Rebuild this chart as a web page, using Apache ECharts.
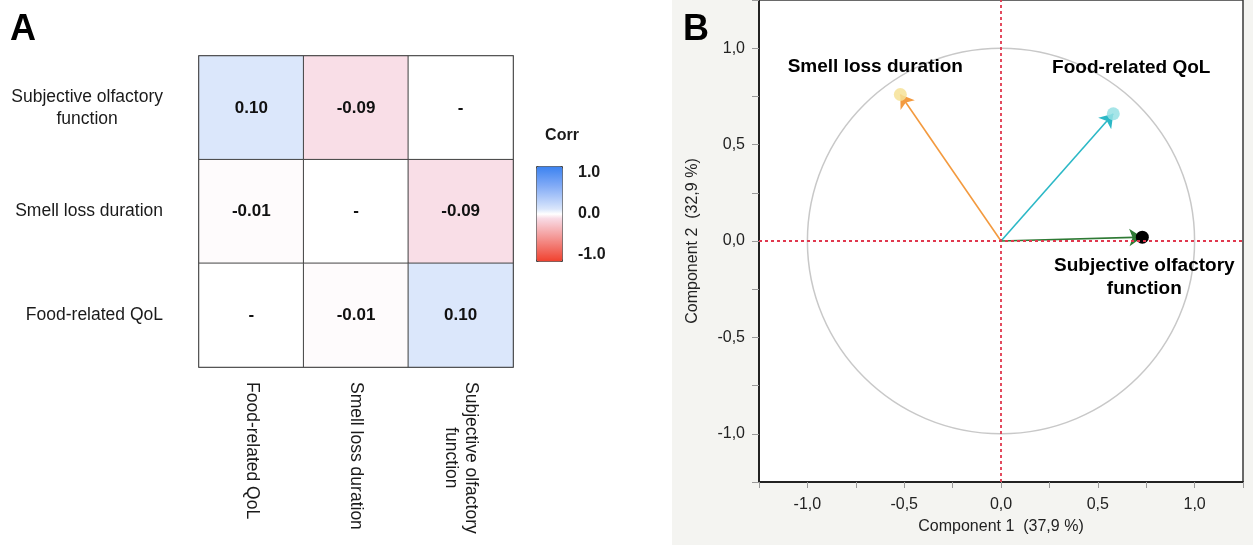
<!DOCTYPE html>
<html>
<head>
<meta charset="utf-8">
<script src="https://cdn.jsdelivr.net/npm/echarts@6/dist/echarts.min.js"></script>
<style>
html,body{margin:0;padding:0;background:#fff;}
#chart{width:1253px;height:545px;}
</style>
</head>
<body>
<div id="chart"></div>
<script>
// ---------- Panel A data (correlation heatmap) ----------
const rowLabels = ['Subjective olfactory function', 'Smell loss duration', 'Food-related QoL']; // top to bottom
const colLabels = ['Food-related QoL', 'Smell loss duration', 'Subjective olfactory function']; // left to right
const corrRows = [
  [0.10, -0.09, null],
  [-0.01, null, -0.09],
  [null, -0.01, 0.10]
];
const corrTicks = [-1, 0, 1];
const corrTitle = 'Corr';

// ---------- Panel B data (PCA loading vectors) ----------
const vecNames = ['Smell loss duration', 'Food-related QoL', 'Subjective olfactory function'];
const vecX = [-0.52, 0.58, 0.73];
const vecY = [0.76, 0.66, 0.02];
const circleRadius = [1];
const xName = 'Component 1  (37,9 %)';
const yName = 'Component 2  (32,9 %)';

// ---------- styles ----------
const FONT = '"Liberation Sans", Arial, Helvetica, sans-serif';
const vecColors = ['#f39a3f', '#2bb8c6', '#2f7a35'];
const glowColors = ['rgba(246,226,150,0.85)', 'rgba(150,225,228,0.85)', '#000000'];
const glowSizes = [13, 13, 13];
const labelOffsets = [[-25, -28], [18, -46], [2, 40]];

function wrap(s) {
  if (s.length <= 20) return s;
  const i = s.lastIndexOf(' ');
  return s.slice(0, i) + '\n' + s.slice(i + 1);
}
function richWrap(s) {
  return wrap(s).split('\n').map(t => '{c|' + t + '}').join('\n');
}

const heatData = [];
corrRows.forEach((row, r) => {
  row.forEach((v, c) => {
    heatData.push([c, r, v == null ? 0 : v, v == null ? '-' : v.toFixed(2)]);
  });
});

const corrColors = [
  '#f0412e', '#f15242', '#f16357', '#f2746b', '#f3857f', '#f49694', '#f5a7a8', '#f6b8bc', '#f7c9d0', '#f8dae4',
  '#ffffff',
  '#dbe7fb', '#c8dafa', '#b6cef9', '#a4c2f8', '#92b6f7', '#80aaf6', '#6fa0f5', '#5e96f3', '#4c8cf2', '#3b82f0'
];

function commaFmt(v) {
  if (Math.abs(v * 2 - Math.round(v * 2)) > 1e-6) return '';
  return (Math.abs(v) < 1e-9 ? 0 : v).toFixed(1).replace('.', ',');
}

const chart = echarts.init(document.getElementById('chart'), null, {renderer: 'canvas'});
const option = {
  animation: false,
  textStyle: {fontFamily: FONT},
  graphic: [
    {type: 'rect', shape: {x: 672, y: 0, width: 581, height: 545}, style: {fill: '#f4f4f1'}, z: -10, silent: true},
    {type: 'text', left: 10, top: 12, style: {text: 'A', font: 'bold 36px ' + FONT, fill: '#000'}},
    {type: 'text', left: 683, top: 12, style: {text: 'B', font: 'bold 36px ' + FONT, fill: '#000'}}
  ],
  grid: [
    {left: 199, top: 56, width: 314, height: 311, show: true, borderColor: '#333', borderWidth: 1.5, backgroundColor: '#fff', containLabel: false},
    {left: 759, top: 0, width: 484, height: 482, show: true, borderColor: '#3a3a3a', borderWidth: 1.5, backgroundColor: '#fff', containLabel: false},
    {left: 536, top: 166, width: 26, height: 95, show: false, containLabel: false}
  ],
  xAxis: [
    {
      gridIndex: 0, type: 'category', data: colLabels, position: 'bottom',
      axisLine: {show: false}, axisTick: {show: false}, splitLine: {show: false},
      axisLabel: {
        rotate: -90, margin: 15, fontSize: 17.5, color: '#1a1a1a', interval: 0,
        formatter: richWrap,
        rich: {c: {align: 'center', fontSize: 17.5, color: '#1a1a1a', fontFamily: FONT, lineHeight: 20}}
      }
    },
    {
      gridIndex: 1, type: 'value', min: -1.25, max: 1.25, interval: 0.25,
      axisLine: {show: true, onZero: false, lineStyle: {color: '#222', width: 2}},
      axisTick: {show: true, length: 6, lineStyle: {color: '#999', width: 1}},
      splitLine: {show: false},
      axisLabel: {formatter: commaFmt, fontSize: 16, color: '#222', margin: 15, showMinLabel: true, showMaxLabel: true},
      name: xName, nameLocation: 'middle', nameGap: 37,
      nameTextStyle: {fontSize: 16, color: '#222'}
    },
    {gridIndex: 2, type: 'category', data: [''], show: false}
  ],
  yAxis: [
    {
      gridIndex: 0, type: 'category', data: rowLabels, inverse: true,
      axisLine: {show: false}, axisTick: {show: false}, splitLine: {show: false},
      axisLabel: {
        margin: 36, fontSize: 17.5, color: '#1a1a1a', interval: 0,
        formatter: richWrap,
        rich: {c: {align: 'center', fontSize: 17.5, color: '#1a1a1a', fontFamily: FONT, lineHeight: 22}}
      }
    },
    {
      gridIndex: 1, type: 'value', min: -1.25, max: 1.25, interval: 0.25,
      axisLine: {show: true, onZero: false, lineStyle: {color: '#222', width: 2}},
      axisTick: {show: true, length: 7, lineStyle: {color: '#999', width: 1}},
      splitLine: {show: false},
      axisLabel: {formatter: commaFmt, fontSize: 16, color: '#222', margin: 14, showMinLabel: true, showMaxLabel: true},
      name: yName, nameLocation: 'middle', nameGap: 58,
      nameTextStyle: {fontSize: 16, color: '#222'}
    },
    {
      gridIndex: 2, type: 'value', min: -1.15, max: 1.15, position: 'right',
      axisLine: {show: false}, axisTick: {show: false}, splitLine: {show: false},
      axisLabel: {customValues: corrTicks, formatter: v => v.toFixed(1), fontSize: 16, fontWeight: 'bold', color: '#1a1a1a', margin: 16},
      name: corrTitle, nameLocation: 'end', nameGap: 22,
      nameTextStyle: {fontSize: 16, fontWeight: 'bold', color: '#1a1a1a', align: 'center'}
    }
  ],
  visualMap: [{
    type: 'continuous', min: -1, max: 1, seriesIndex: 0, dimension: 2,
    calculable: false, orient: 'vertical', left: 536, top: 166,
    itemWidth: 26, itemHeight: 95, padding: 0,
    borderColor: '#444', borderWidth: 1,
    inRange: {color: corrColors},
    text: null, showLabel: false, hoverLink: false
  }],
  series: [
    {
      type: 'heatmap', xAxisIndex: 0, yAxisIndex: 0, data: heatData,
      itemStyle: {borderColor: '#444', borderWidth: 1},
      label: {show: true, formatter: p => p.data[3], fontSize: 17, fontWeight: 'bold', color: '#111'},
      emphasis: {disabled: true}, silent: true
    },
    {
      type: 'custom', xAxisIndex: 1, yAxisIndex: 1, data: circleRadius.map(r => [0, 0, r]),
      silent: true, clip: false, z: 2,
      renderItem: (params, api) => {
        const c = api.coord([api.value(0), api.value(1)]);
        const s = api.size([api.value(2), api.value(2)]);
        return {type: 'ellipse', shape: {cx: c[0], cy: c[1], rx: s[0], ry: s[1]},
          style: {fill: 'none', stroke: '#c8c8c8', lineWidth: 1.5}};
      },
      markLine: {
        silent: true, symbol: ['none', 'none'], label: {show: false},
        lineStyle: {color: '#e0384e', type: [3, 3], width: 1.8},
        data: [{xAxis: 0}, {yAxis: 0}]
      }
    },
    {
      type: 'lines', coordinateSystem: 'cartesian2d', xAxisIndex: 1, yAxisIndex: 1, z: 3,
      symbol: ['none', 'arrow'], symbolSize: 13, silent: true,
      data: vecNames.map((n, i) => ({coords: [[0, 0], [vecX[i], vecY[i]]], lineStyle: {color: vecColors[i]}})),
      lineStyle: {width: 1.6, opacity: 1}
    },
    {
      type: 'scatter', xAxisIndex: 1, yAxisIndex: 1, z: 4, silent: true,
      data: vecNames.map((n, i) => ({
        value: [vecX[i], vecY[i]], name: n,
        symbolSize: glowSizes[i],
        itemStyle: {color: glowColors[i], opacity: 1},
        label: {
          show: true, position: 'inside', offset: labelOffsets[i],
          formatter: () => wrap(n), align: 'center', opacity: 1,
          fontSize: 19, fontWeight: 'bold', color: '#000', lineHeight: 23,
          textBorderWidth: 0
        }
      }))
    }
  ]
};
chart.setOption(option);
</script>
</body>
</html>
